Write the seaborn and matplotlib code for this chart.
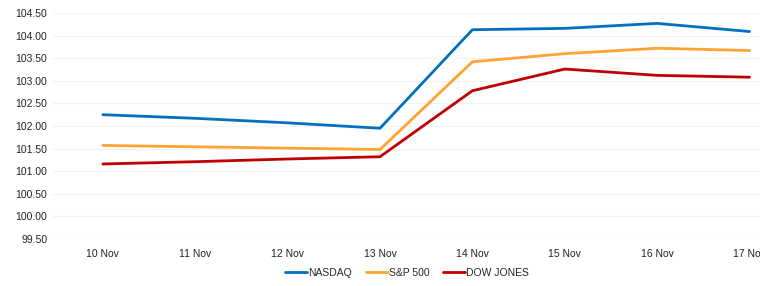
import matplotlib
matplotlib.use("Agg")
import matplotlib.pyplot as plt
import pandas as pd
import seaborn as sns

DAYS = ["10 Nov", "11 Nov", "12 Nov", "13 Nov", "14 Nov", "15 Nov", "16 Nov", "17 Nov"]
NASDAQ = [102.25, 102.17, 102.07, 101.95, 104.13, 104.16, 104.27, 104.09]
SP500 = [101.57, 101.54, 101.51, 101.48, 103.42, 103.60, 103.72, 103.67]
DOW = [101.16, 101.21, 101.27, 101.32, 102.78, 103.26, 103.12, 103.08]
SERIES = ["NASDAQ", "S&P 500", "DOW JONES"]
COLORS = ["#0070C0", "#FFA333", "#C00000"]
Y_TICKS = [99.5, 100.0, 100.5, 101.0, 101.5, 102.0, 102.5, 103.0, 103.5, 104.0, 104.5]

sns.set_theme(style="white")
plt.rcParams["font.family"] = ["Liberation Sans", "DejaVu Sans"]

df = pd.DataFrame({"day": DAYS * 3,
                   "value": NASDAQ + SP500 + DOW,
                   "index": [s for s in SERIES for _ in DAYS]})

fig = plt.figure(figsize=(7.6, 2.86), dpi=100)
ax = fig.add_axes([53 / 760, 47 / 286, 715 / 760, 226 / 286])
sns.lineplot(data=df, x="day", y="value", hue="index", hue_order=SERIES,
             palette=COLORS, linewidth=2.0, ax=ax, legend=False)

ax.set_xlim(-0.54, 7.2)
ax.set_ylim(99.5, 104.5)
ax.set_yticks(Y_TICKS)
ax.set_yticklabels([f"{v:.2f}" for v in Y_TICKS], fontsize=7.5, color="#222222")
ax.set_xticks(range(len(DAYS)))
ax.set_xticklabels(DAYS, fontsize=7.5, color="#222222")
ax.tick_params(axis="both", length=0, pad=4)
ax.tick_params(axis="x", pad=7)
ax.yaxis.grid(True, color="#F2F2F2", linewidth=0.8)
ax.set_axisbelow(True)
for s in ax.spines.values():
    s.set_visible(False)
ax.set_xlabel("")
ax.set_ylabel("")

handles = [plt.Line2D([], [], color=c, linewidth=2.0) for c in COLORS]
fig.legend(handles, SERIES, loc="center", bbox_to_anchor=(407 / 760, 13 / 286),
           ncol=3, frameon=False, fontsize=7.5, handlelength=2.1,
           handletextpad=0.1, columnspacing=1.3)

fig.savefig("out.png", dpi=100)
